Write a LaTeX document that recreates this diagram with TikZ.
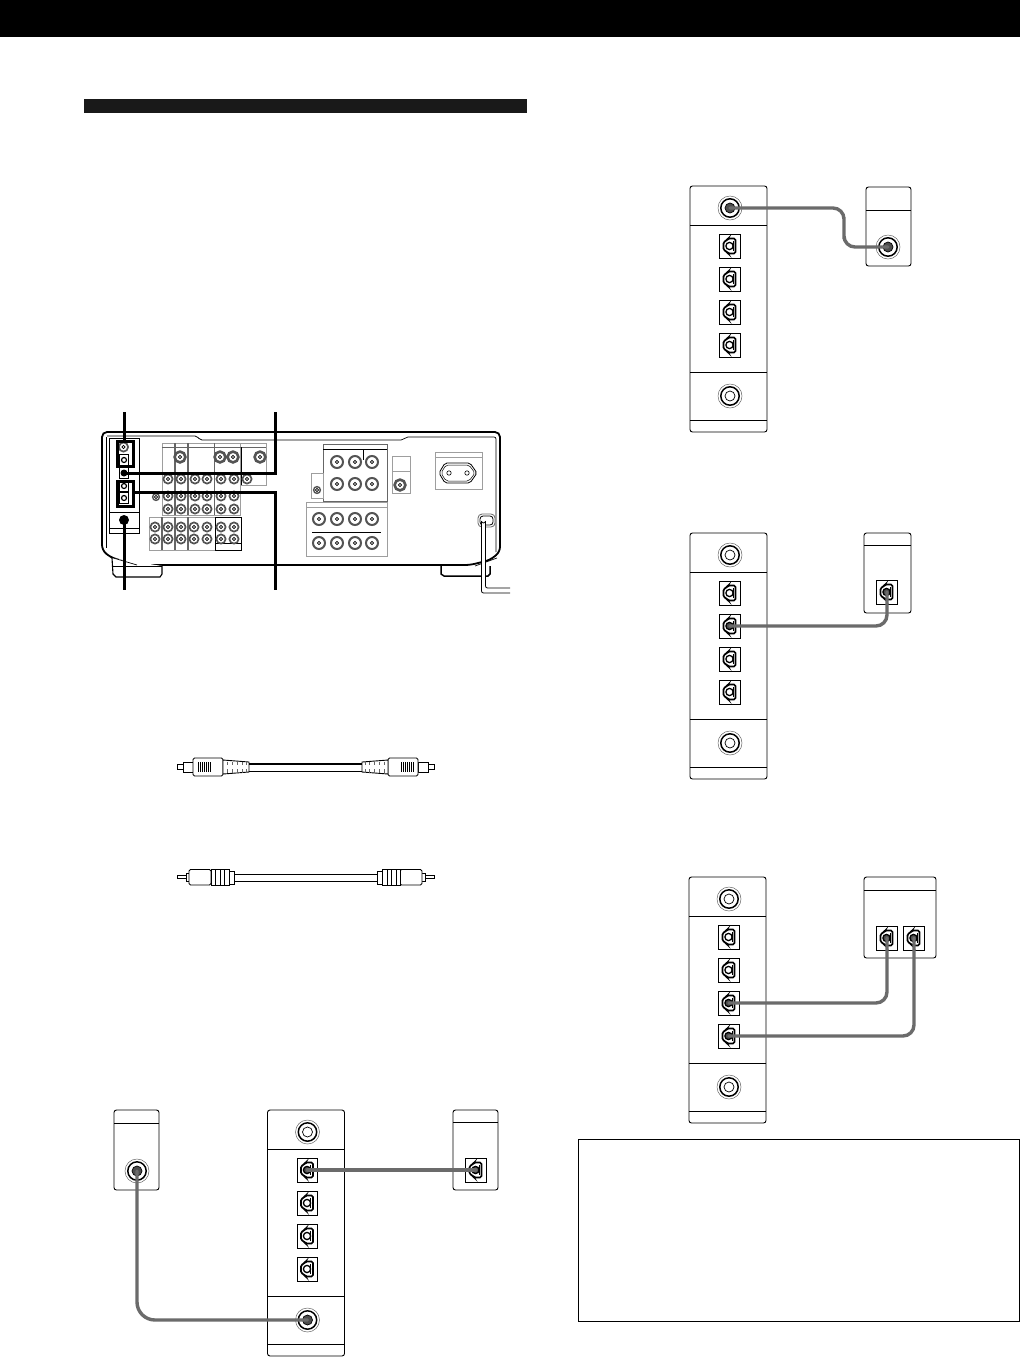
\documentclass[tikz,border=0pt]{standalone}
\definecolor{cablegray}{gray}{0.42}
\definecolor{jackdark}{gray}{0.30}
\definecolor{blockgray}{gray}{0.62}
\definecolor{midgray}{gray}{0.4}
\definecolor{ringgray}{gray}{0.33}
\tikzset{
  panelbox/.style={draw=black,line width=0.9pt,rounded corners=2.5pt,fill=white},
  divline/.style={draw=black,line width=0.9pt},
  cable/.style={draw=cablegray,line width=3.4pt,line cap=round},
  leader/.style={draw=black,line width=3pt},
  blockbox/.style={draw=blockgray,line width=0.8pt},
  sepline/.style={draw=midgray,line width=1.5pt},
  plugpart/.style={draw=black,line width=0.9pt,fill=white},
  rearjack/.style={draw=ringgray,line width=1.7pt,fill=white},
  rearhole/.style={draw=black,line width=0.7pt}
}
% coaxial jack: name, x, y, centre fill
\newcommand\coaxjack[4]{%
  \coordinate (#1) at (#2,#3);
  \draw[line width=0.5pt,midgray] (#1) circle (12);
  \draw[line width=1.5pt,fill=white] (#1) circle (9.2);
  \draw[line width=0.7pt,fill=#4] (#1) circle (5);
}
% optical jack: name, x, y, centre fill
\newcommand\optjack[4]{%
  \coordinate (#1) at (#2,#3);
  \begin{scope}[shift={(#2,#3)}]
    \draw[line width=0.9pt,fill=white] (-10.2,-12) rectangle (10.2,12);
    \draw[line width=1.7pt,fill=white,rounded corners=1.5pt] (5.5,-7.5) -- (-2,-7.5) -- (-3,-5.8) -- (-6.5,-4) -- (-6.5,4) -- (-3,5.8) -- (-2,7.5) -- (5.5,7.5) -- cycle;
    \draw[line width=1.1pt] (3.2,-5) -- (3.2,5);
    \draw[line width=1.3pt,fill=#4] (-0.5,0) circle (3.6);
  \end{scope}
}
% selector panel: prefix, x, y, fills of coax1, opt1..opt4, coax2
\newcommand\selpanel[9]{%
  \begin{scope}[shift={(#2,#3)}]
    \draw[panelbox] (-40,-22) rectangle (37,224);
    \draw[divline] (-40,17) -- (37,17);
    \draw[divline] (-40,164) -- (37,164);
    \draw[divline] (-40,212) -- (37,212);
    \coaxjack{#1c}{0}{0}{#4}
    \optjack{#1a}{0}{38}{#5}
    \optjack{#1b}{0}{71}{#6}
    \optjack{#1d}{0}{104}{#7}
    \optjack{#1e}{0}{137}{#8}
    \coaxjack{#1f}{0}{188}{#9}
  \end{scope}
}
% a rear jack as a path piece; \jackr is its radius
\def\jk#1#2{(#1,#2) circle (\jackr)}
\def\alljacks{
  \jk{168}{479} \jk{181}{479} \jk{195}{479} \jk{207}{479} \jk{221}{479} \jk{234}{479} \jk{247}{479}
  \jk{168}{496} \jk{181}{496} \jk{195}{496} \jk{207}{496} \jk{221}{496} \jk{234}{496}
  \jk{168}{509} \jk{181}{509} \jk{195}{509} \jk{207}{509} \jk{221}{509} \jk{234}{509}
  \jk{155}{527} \jk{168}{527} \jk{181}{527} \jk{194}{527} \jk{207}{527} \jk{221}{527} \jk{234}{527}
  \jk{155}{539} \jk{168}{539} \jk{181}{539} \jk{194}{539} \jk{207}{539} \jk{221}{539} \jk{234}{539}
  \jk{123.5}{447}
}
\def\rightjacks{
  \jk{337}{462} \jk{355}{462} \jk{372}{462}
  \jk{337}{484} \jk{355}{484} \jk{372}{484}
  \jk{319}{519} \jk{337}{519} \jk{355}{519} \jk{372}{519}
  \jk{319}{543} \jk{337}{543} \jk{355}{543} \jk{372}{543}
}
\def\smalljacks{\jk{156}{497} \jk{317}{490}}
\def\bigjacks{\jk{180}{457} \jk{220}{457} \jk{233}{457} \jk{260}{457} \jk{400}{485}}
\begin{document}
\begin{tikzpicture}[x=1pt,y=-1pt]
\useasboundingbox (0,0) rectangle (1020,1358);
\fill[white] (0,0) rectangle (1020,1358);
% header bars
\fill[black] (0,0) rectangle (1020,37);
\fill[black!90] (84,99) rectangle (527,113);
% note box
\node[draw=black,line width=0.8pt,minimum width=441pt,minimum height=182pt,inner sep=0pt,anchor=north west] (notebox) at (578,1139) {};

% ---------- selector panels ----------
\selpanel{pa}{730}{208}{jackdark}{white}{white}{white}{white}{white}
\selpanel{pb}{730}{555}{white}{white}{jackdark}{white}{white}{white}
\selpanel{pc}{729}{899}{white}{white}{white}{jackdark}{jackdark}{white}
\selpanel{pd}{307.5}{1132}{white}{jackdark}{white}{white}{white}{jackdark}

% ---------- component boxes ----------
\draw[panelbox] (866,187) rectangle (911,266);
\draw[divline] (866,210) -- (911,210);
\coaxjack{ba}{888}{247}{jackdark}
\draw[panelbox] (864,533) rectangle (911,613);
\draw[divline] (864,545) -- (911,545);
\optjack{bb}{887}{592}{jackdark}
\draw[panelbox] (864,877) rectangle (936,958);
\draw[divline] (864,890) -- (936,890);
\optjack{bc}{887}{938}{jackdark}
\optjack{bd}{914}{938}{jackdark}
\draw[panelbox] (114,1110) rectangle (159,1190);
\draw[divline] (114,1123) -- (159,1123);
\coaxjack{be}{137}{1171}{jackdark}
\draw[panelbox] (453,1110) rectangle (498,1190);
\draw[divline] (453,1122) -- (498,1122);
\optjack{bf}{476}{1170}{jackdark}

% ---------- cables ----------
\coordinate (turnpt) at (844,228);
\draw[cable,rounded corners=11pt] (pac) -| (turnpt) |- (ba);
\draw[cable,rounded corners=11pt] (pbb) -| (bb);
\draw[cable,rounded corners=11pt] (pcd) -| (bc);
\draw[cable,rounded corners=11pt] (pce) -| (bd);
\draw[cable] (pda) -- (bf);
\draw[cable,rounded corners=18pt] (be) |- (pdf);

% ---------- receiver ----------
\draw[line width=1.8pt,fill=white,rounded corners=5pt] (102,432) -- (500,432) -- (500,552) -- (490,560) -- (470,565) -- (135,565) -- (110,557) -- (102,550) -- cycle;
\draw[line width=1.1pt,fill=white] (112,558) -- (113,574) -- (116,577) -- (160,577) -- (162,574) -- (162,566);
\draw[line width=0.7pt] (113,566) -- (162,566);
\draw[line width=0.7pt] (110,557) -- (137,565);
\draw[line width=1.5pt,fill=white] (441,566) -- (441,574) -- (444,576) -- (488,576) -- (490,574) -- (490,566);
\draw[line width=0.7pt] (475,566) -- (497,558);
\draw[line width=0.7pt] (106,437) -- (106,548);
\draw[line width=0.7pt,rounded corners=2pt] (107,436) -- (197,436) -- (200,440) -- (403,440) -- (406,437) -- (496,437) -- (496,552);
% left panel
\draw[line width=0.7pt] (109,438) rectangle (139,533);
\draw[line width=0.7pt] (109,512) -- (139,512);
\draw[line width=0.7pt] (109,528) -- (139,528);
\draw[line width=0.7pt] (119.5,454.5) rectangle (128.5,465.5);
\draw[line width=0.7pt] (119.5,480.5) rectangle (128.5,491.5);
\draw[line width=0.7pt] (119.5,492.5) rectangle (128.5,503.5);
\draw[line width=1.2pt] (124,460) circle (2.5) (124,486) circle (2.5) (124,498) circle (2.5);
% middle blocks
\draw[blockbox] (162,443) rectangle (240,515);
\draw[blockbox] (240,443) -- (266,443) -- (266,485) -- (240,485);
\draw[line width=0.7pt,midgray] (162,447) -- (266,447);
\draw[sepline] (175,443) -- (175,515) (188,443) -- (188,515);
\draw[sepline,line width=1pt] (214,443) -- (214,515);
\draw[line width=0.7pt] (241,447) -- (241,485);
\draw[blockbox] (149,517) rectangle (215,550);
\draw[sepline] (162,517) -- (162,550) (175,517) -- (175,550) (188,517) -- (188,550);
\draw[line width=0.9pt] (215,517) rectangle (241,550);
\draw[line width=0.7pt] (215,543) -- (241,543);
% right blocks
\draw[line width=0.9pt,midgray] (323,444) rectangle (387,501);
\draw[line width=0.7pt] (323,449) -- (387,449);
\draw[line width=0.7pt] (363,449) -- (363,460);
\draw[blockbox] (311,473) rectangle (323,498);
\draw[blockbox] (392,456) rectangle (410,493);
\draw[blockbox] (392,471) -- (410,471);
\draw[blockbox] (306,502) rectangle (387,556);
\draw[blockbox] (306,507) -- (387,507);
\draw[line width=0.8pt] (312,532) -- (381,532);
% rear jacks
\def\jackr{4.6}
\draw[rearjack] \alljacks;
\def\jackr{6}
\draw[rearjack,line width=2pt] \rightjacks;
\def\jackr{3.4}
\draw[rearjack,line width=1.4pt] \smalljacks;
\def\jackr{5.4}
\draw[rearjack,line width=2.6pt] \bigjacks;
\def\jackr{1.6}
\draw[rearhole] \alljacks;
\draw[rearhole] \rightjacks;
\draw[rearhole] \smalljacks;
\draw[rearhole] \bigjacks;
% AC socket
\draw[blockbox] (435,452) rectangle (482,489);
\draw[blockbox] (435,457) -- (482,457);
\draw[line width=0.8pt,rounded corners=2pt] (445,463) -- (470,463) -- (477,473) -- (470,483) -- (445,483) -- (439,473) -- cycle;
\draw[line width=0.5pt,rounded corners=2pt] (446,465) -- (469,465) -- (475,473) -- (469,481) -- (446,481) -- (441,473) -- cycle;
\draw[line width=0.6pt] (449,473) circle (2.2) (467,473) circle (2.2);
% power cord
\draw[line width=0.8pt,midgray,fill=white,rounded corners=4pt] (478,514) rectangle (495,527);
\draw[line width=0.8pt,fill=white,rounded corners=3pt] (480,516) rectangle (493,525);
\draw[white,line width=3.5pt] (483.5,522) -- (483.5,590) -- (510,590);
\draw[line width=0.8pt,rounded corners=2pt] (481.5,521) -- (481.5,593) -- (510,593);
\draw[line width=0.8pt,rounded corners=2pt] (485.5,521) -- (485.5,588) -- (510,588);
\draw[line width=0.8pt] (481.5,521) arc (180:0:2);
% highlighted sockets and leaders
\draw[line width=3pt] (117,441) rectangle (133,466);
\draw[line width=3pt] (117,481) rectangle (133,506);
\draw[line width=0.7pt] (119.5,467.5) rectangle (128.5,478.5);
\coordinate (hla) at (124,441);
\coordinate (hlb) at (124,473);
\coordinate (hlc) at (133,492);
\coordinate (hld) at (124,520);
\coordinate (tla) at (124,412);
\coordinate (tlb) at (275,412);
\coordinate (tlc) at (275,590);
\coordinate (tld) at (124,590);
\fill[black] (hlb) circle (3.5);
\fill[black] (hld) circle (5);
\draw[leader] (tla) -- (hla);
\draw[leader] (hlb) -| (tlb);
\draw[leader] (hlc) -| (tlc);
\draw[leader] (hld) -- (tld);

% ---------- loose cables ----------
\foreach \shiftx/\flipx in {0/1,611/-1}{
\begin{scope}[shift={(\shiftx,0)},xscale=\flipx]
  \draw[plugpart] (177,764.5) rectangle (183,769.5);
  \draw[plugpart] (183,762) rectangle (193,772);
  \draw[plugpart,rounded corners=1.5pt] (193,758) rectangle (223,776);
  \draw[line width=0.6pt,black] (198,762) -- (198,772) (200,762) -- (200,772) (202,762) -- (202,772) (204,762) -- (204,772) (206,762) -- (206,772) (208,762) -- (208,772) (210,762) -- (210,772);
  \draw[plugpart] (223,760) -- (249,762) -- (249,772) -- (223,774) -- cycle;
  \draw[line width=1pt,midgray] (227,761.5) -- (227,765) (232,761.5) -- (232,765) (237,761.5) -- (237,765) (242,761.5) -- (242,765) (246,761.5) -- (246,765) (227,769) -- (227,772.5) (232,769) -- (232,772.5) (237,769) -- (237,772.5) (242,769) -- (242,772.5) (246,769) -- (246,772.5);
  \draw[plugpart] (177,875.5) rectangle (186,878.5);
  \draw[plugpart] (186,873) rectangle (190,881);
  \draw[plugpart,rounded corners=1.5pt] (189,869.5) rectangle (211,885);
  \draw[plugpart] (211,869) rectangle (229,885.5);
  \draw[line width=0.6pt] (215,869) -- (215,885.5) (220,869) -- (220,885.5) (224,869) -- (224,885.5);
  \draw[plugpart] (229,871) rectangle (234,884);
\end{scope}}
\draw[line width=2pt] (249,763.5) -- (362,763.5);
\draw[line width=0.8pt] (249,771) -- (362,771);
\draw[line width=0.9pt] (234,874) -- (377,874);
\draw[line width=0.9pt] (234,881) -- (377,881);
\end{tikzpicture}
\end{document}
